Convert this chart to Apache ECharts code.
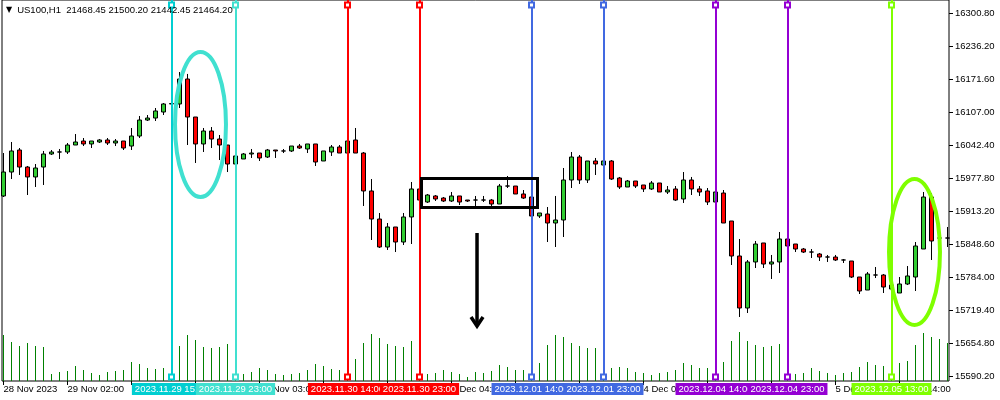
<!DOCTYPE html>
<html>
<head>
<meta charset="utf-8">
<style>html,body{margin:0;padding:0;background:#fff}#c{width:1000px;height:400px}</style>
<script src="https://cdn.jsdelivr.net/npm/echarts@6/dist/echarts.min.js"></script>
</head>
<body>
<div id="c"></div>
<script>
// ---- trading sessions (H1 bars) ----
const sessions = [['2023.11.28',17,23],['2023.11.29',1,23],['2023.11.30',1,23],['2023.12.01',1,23],['2023.12.04',1,23],['2023.12.05',1,20]];

const opens = [15942.6,15989.5,16032.6,15999.3,15979.8,15999.3,16024.8,16028.7,16028.7,16042.4,
16050.2,16044.4,16048.3,16052.2,16046.3,16050.2,16040.4,16060.0,16091.3,16095.2,
16107.0,16122.7,16122.7,16171.6,16097.2,16044.4,16069.8,16054.1,16042.4,16005.2,
16015.0,16024.8,16026.7,16018.9,16032.6,16030.7,16030.7,16040.4,16034.6,16044.4,
16011.1,16028.7,16038.5,16026.7,16052.2,16026.7,15952.4,15897.5,15842.7,15881.9,
15852.5,15901.5,15956.3,15930.8,15942.6,15938.6,15932.8,15942.6,15934.7,15934.7,
15934.7,15934.7,15926.9,15962.1,15962.1,15946.5,15940.6,15903.4,15907.3,15889.7,
15895.6,15973.9,16018.9,15973.9,16011.1,16003.2,16011.1,15977.8,15960.2,15971.9,
15964.1,15956.3,15968.0,15950.4,15956.3,15936.7,15973.9,15956.3,15952.4,15930.8,
15948.4,15893.6,15825.1,15723.3,15813.4,15850.6,15809.4,15813.4,15858.4,15848.6,
15838.8,15832.9,15829.0,15823.1,15823.1,15817.3,15815.3,15784.0,15758.5,15787.9,
15787.9,15760.5,15752.7,15770.3,15784.0,15838.8,15940.6,15860.3,15860.3];

const highs = [16026.7,16048.3,16036.5,16001.3,16005.2,16030.7,16032.6,16034.6,16046.3,16063.9,
16056.1,16050.2,16054.1,16056.1,16054.1,16050.2,16075.7,16099.2,16101.1,16114.8,
16124.6,16124.6,16185.3,16181.5,16097.2,16075.7,16077.6,16062.0,16042.4,16022.8,
16026.7,16034.6,16026.7,16034.6,16032.6,16034.6,16040.4,16044.4,16044.4,16044.4,
16030.7,16042.4,16042.4,16052.2,16075.7,16028.7,15975.8,15909.3,15889.7,15881.9,
15909.3,15970.0,15960.2,15946.5,15944.5,15940.6,15950.4,15942.6,15934.7,15942.6,
15942.6,15936.7,15966.1,15981.7,15962.1,15954.3,15942.6,15909.3,15921.0,15942.6,
15997.4,16028.7,16022.8,16011.1,16017.0,16013.0,16013.0,15979.8,15973.9,15971.9,
15964.1,15971.9,15968.0,15962.1,15962.1,15989.5,15979.8,15962.1,15958.2,15950.4,
15954.3,15893.6,15858.4,15817.3,15854.5,15850.6,15827.1,15872.1,15860.3,15848.6,
15840.8,15838.8,15831.0,15827.1,15827.1,15819.2,15815.3,15784.0,15793.8,15803.6,
15789.9,15772.2,15784.0,15805.5,15852.5,15950.4,15948.4,15862.3,15881.9];

const lows = [15940.6,15975.8,15983.7,15944.5,15960.2,15964.1,16022.8,16015.0,16024.8,16042.4,
16040.4,16036.5,16046.3,16042.4,16040.4,16032.6,16032.6,16056.1,16089.4,16089.4,
16101.1,16120.7,16114.8,16042.4,16007.2,16028.7,16036.5,16013.0,15989.5,16003.2,
16015.0,16017.0,16011.1,16017.0,16017.0,16026.7,16028.7,16034.6,16026.7,16001.3,
16011.1,16020.9,16026.7,16026.7,16026.7,15923.0,15856.4,15840.8,15836.9,15832.9,
15846.6,15848.6,15932.8,15928.9,15932.8,15930.8,15930.8,15924.9,15930.8,15923.0,
15930.8,15923.0,15926.9,15958.2,15946.5,15936.7,15901.5,15899.5,15852.5,15842.7,
15862.3,15958.2,15966.1,15968.0,15983.7,16001.3,15973.9,15956.3,15960.2,15958.2,
15950.4,15954.3,15950.4,15946.5,15932.8,15928.9,15944.5,15942.6,15924.9,15930.8,
15889.7,15807.5,15705.7,15713.5,15801.6,15801.6,15780.1,15791.8,15842.7,15832.9,
15831.0,15821.2,15815.3,15813.4,15815.3,15811.4,15782.0,15750.7,15758.5,15782.0,
15752.7,15756.6,15752.7,15768.3,15756.6,15838.8,15817.3,15858.4,15842.7];

const closes = [15989.5,16030.7,15999.3,15979.8,15997.4,16024.8,16028.7,16028.7,16042.4,16048.3,
16044.4,16050.2,16052.2,16046.3,16050.2,16036.5,16060.0,16091.3,16095.2,16109.0,
16122.7,16123.5,16171.6,16097.2,16044.4,16069.8,16054.1,16042.4,16005.2,16020.9,
16024.8,16026.7,16017.0,16032.6,16030.7,16030.7,16040.4,16036.5,16044.4,16009.1,
16030.7,16038.5,16026.7,16050.2,16026.7,15952.4,15897.5,15842.7,15881.9,15852.5,
15901.5,15956.3,15934.7,15944.5,15936.7,15932.8,15942.6,15930.8,15932.8,15934.7,
15934.7,15926.9,15962.1,15962.1,15946.5,15938.6,15903.4,15909.3,15889.7,15895.6,
15973.9,16018.9,15973.9,16011.1,16005.2,16011.1,15975.8,15960.2,15971.9,15962.1,
15956.3,15968.0,15950.4,15954.3,15934.7,15973.9,15956.3,15950.4,15930.8,15950.4,
15889.7,15825.1,15723.3,15813.4,15848.6,15809.4,15813.4,15858.4,15844.7,15838.8,
15832.9,15832.9,15823.1,15823.1,15817.3,15817.3,15784.0,15756.6,15789.9,15787.9,
15764.4,15768.3,15770.3,15786.0,15844.7,15940.6,15854.5,15860.3,15860.3];

const volumes = [4600,3900,3500,3800,3500,3400,700,900,1000,1500,
1100,800,600,900,1000,1100,1900,1700,1300,1200,
1300,1200,3500,4600,4100,3400,3300,3400,3700,3000,
700,900,1300,1100,700,600,700,800,1100,1700,
1500,1200,1100,2200,2200,3800,4700,4300,3700,3500,
3400,4000,3600,700,800,1100,900,700,400,900,
800,1000,1600,1400,1100,1100,1400,1800,3600,4600,
4400,3800,3500,3300,3300,3000,1300,1400,1300,900,
800,600,800,900,1100,1800,1600,1300,1300,1800,
1900,4000,4900,4000,3600,3400,3500,3700,3000,700,
800,1300,1000,800,600,800,900,1400,1900,1600,
1500,1500,1800,2000,3600,4800,4400,4200,3800];

// price axis ticks
const priceMin = 15590.2, priceMax = 16300.8, priceStep = 64.6;

// vertical time lines
const lineTimes = ['2023.11.29 15:00','2023.11.29 23:00','2023.11.30 14:00','2023.11.30 23:00','2023.12.01 14:00','2023.12.01 23:00','2023.12.04 14:00','2023.12.04 23:00','2023.12.05 13:00'];
const lineColors = ['#00CED1','#40E0D0','#FF0000','#FF0000','#4169E1','#4169E1','#9400D3','#9400D3','#7FFF00'];

// header
const headerSymbol = 'US100,H1';
const headerValues = ['21468.45','21500.20','21442.45','21464.20'];

// drawn objects anchored in (bar index, price)
const ellipses = [
  {i0:21.44, i1:27.81, p0:16224.5, p1:15940.6, color:'#40E0D0'},
  {i0:110.69, i1:117.06, p0:15975.8, p1:15690.0, color:'#7FFF00'}
];
const boxAnchor = {i0:52.25, i1:66.75, p0:15976.8, p1:15920.1};
const arrowAnchor = {i:59.19, p0:15870.1, p1:15686.1};

// ---- build categories ----
const categories = [];
sessions.forEach(([d,h0,h1]) => { for (let h=h0; h<=h1; h++) categories.push(d+' '+String(h).padStart(2,'0')+':00'); });
const MON = ['Jan','Feb','Mar','Apr','May','Jun','Jul','Aug','Sep','Oct','Nov','Dec'];
function timeLabel(v, idx){
  const [d,t] = v.split(' ');
  const [y,m,dd] = d.split('.');
  if (idx === 0) return (+dd)+' '+MON[+m-1]+' '+y;
  return (+dd)+' '+MON[+m-1]+' '+t;
}

const FONT = 'Liberation Sans';
const FS = 9.5;

const ohlc = opens.map((o,i)=>[o, closes[i], lows[i], highs[i]]);
const volData = volumes.map((v,i)=>[i, v]);

const markData = [];
lineTimes.forEach((t,k)=>{
  markData.push([{coord:[t,0], symbol:'none'},{coord:[t,377], symbol:'none', lineStyle:{color:lineColors[k], width:2}, label:{show:false}}]);
  markData.push([{coord:[t,377], symbol:'emptyRect'},{coord:[t,5], symbol:'emptyRect',
    lineStyle:{color:lineColors[k], width:2},
    label:{show:true, position:'start', distance:6, formatter:t, color:'#fff', backgroundColor:lineColors[k],
      padding:[1,3,0,3], fontFamily:FONT, fontSize:FS, lineHeight:11}}]);
});

const chart = echarts.init(document.getElementById('c'), null, {renderer:'canvas'});
const option = {
  animation:false,
  backgroundColor:'#fff',
  title:{
    left:6, top:5, padding:0,
    text:'{tri|▼}'+headerSymbol+'  '+headerValues.join(' '),
    textStyle:{fontFamily:FONT, fontSize:FS, fontWeight:'normal', color:'#000',
      rich:{tri:{fontFamily:'DejaVu Sans', fontSize:8, color:'#000', padding:[0,5,0,0]}}}
  },
  grid:[
    {left:3.5, right:52.5, top:13, bottom:24},          // price
    {left:3.5, right:52.5, top:281, bottom:19},         // volume
    {left:3.5, right:52.5, top:0, bottom:19},           // overlay
    {left:2, right:51, top:0, bottom:19, show:true, borderColor:'#000', borderWidth:1, backgroundColor:'transparent'} // frame
  ],
  xAxis:[
    {type:'category', gridIndex:0, data:categories, boundaryGap:false, show:false},
    {type:'category', gridIndex:1, data:categories, boundaryGap:false,
      axisLine:{show:false},
      axisTick:{show:true, interval:7, length:4, lineStyle:{color:'#000'}},
      axisLabel:{interval:7, align:'left', margin:3, color:'#000', fontFamily:FONT, fontSize:FS, formatter:timeLabel}},
    {type:'category', gridIndex:2, data:categories, boundaryGap:false, show:false},
    {type:'value', gridIndex:3, show:false}
  ],
  yAxis:[
    {type:'value', gridIndex:0, position:'right', offset:1.5, min:priceMin, max:priceMax, interval:priceStep,
      axisLine:{show:false}, axisTick:{show:true, length:4, lineStyle:{color:'#000'}}, splitLine:{show:false},
      axisLabel:{margin:6, color:'#000', fontFamily:FONT, fontSize:FS, formatter:(v)=>v.toFixed(2)}},
    {type:'value', gridIndex:1, min:0, max:10000, show:false},
    {type:'value', gridIndex:2, min:0, max:381, inverse:true, show:false},
    {type:'value', gridIndex:3, show:false}
  ],
  series:[
    {type:'custom', name:'Volume', xAxisIndex:1, yAxisIndex:1, data:volData, z:1, silent:true,
      renderItem:(params, api)=>{
        const top = api.coord([api.value(0), api.value(1)]);
        const base = api.coord([api.value(0), 0]);
        const x = Math.floor(top[0]) + 0.5;
        return {type:'line', shape:{x1:x, y1:base[1], x2:x, y2:top[1]}, style:{stroke:'#008000', lineWidth:1}};
      }},
    {type:'candlestick', name:'US100', xAxisIndex:0, yAxisIndex:0, data:ohlc, barWidth:4, z:2,
      itemStyle:{color:'#32CD32', color0:'#FF0000', borderColor:'#000', borderColor0:'#000', borderColorDoji:'#000', borderWidth:1}, silent:true},
    {type:'line', xAxisIndex:2, yAxisIndex:2, data:[], z:5, silent:true, clip:false,
      markLine:{silent:true, animation:false, symbolSize:5, emphasis:{disabled:true},
        lineStyle:{type:'solid', width:2}, data:markData}}
  ]
};
chart.setOption(option);

// annotations anchored to data coordinates
const x0 = chart.convertToPixel({xAxisIndex:0}, 0);
const x1 = chart.convertToPixel({xAxisIndex:0}, 1);
const X = i => x0 + (x1-x0)*i;
const Y = p => chart.convertToPixel({yAxisIndex:0}, p);
const g = [];
ellipses.forEach(e=>{
  const xa = X(e.i0), xb = X(e.i1), ya = Y(e.p0), yb = Y(e.p1);
  g.push({type:'ellipse', z:20, silent:true,
    shape:{cx:(xa+xb)/2, cy:(ya+yb)/2, rx:Math.abs(xb-xa)/2, ry:Math.abs(yb-ya)/2},
    style:{fill:null, stroke:e.color, lineWidth:4}});
});
{
  const xa = X(boxAnchor.i0), xb = X(boxAnchor.i1), ya = Y(boxAnchor.p0), yb = Y(boxAnchor.p1);
  g.push({type:'rect', z:20, silent:true, shape:{x:xa, y:ya, width:xb-xa, height:yb-ya},
    style:{fill:null, stroke:'#000', lineWidth:3}});
}
{
  const ax = X(arrowAnchor.i), ya = Y(arrowAnchor.p0), yb = Y(arrowAnchor.p1);
  g.push({type:'line', z:20, silent:true, shape:{x1:ax, y1:ya, x2:ax, y2:yb-3}, style:{stroke:'#000', lineWidth:3.5}});
  g.push({type:'polyline', z:20, silent:true, shape:{points:[[ax-6,yb-10],[ax,yb-1],[ax+6,yb-10]]}, style:{stroke:'#000', lineWidth:3.5, fill:null}});
}
chart.setOption({graphic:g});
</script>
</body>
</html>
